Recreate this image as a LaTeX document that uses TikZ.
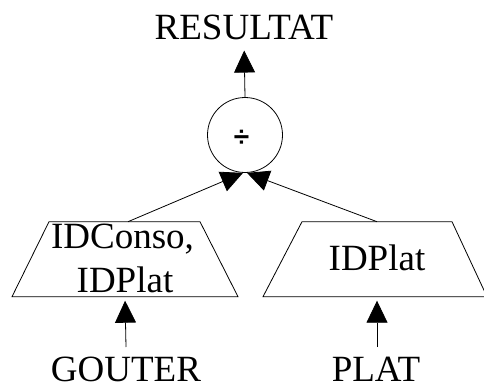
\documentclass[tikz,border=0pt]{standalone}
\usepackage{fontspec}
\setmainfont{Liberation Serif}
\newfontfamily\opfont{Liberation Sans}
\usetikzlibrary{arrows.meta}
\tikzset{
  lbl/.style={font=\fontsize{37}{44}\selectfont, inner sep=0pt, anchor=base},
  arr/.style={line width=0.8pt, -{Triangle[length=22pt,width=21pt]}},
  proj/.style={draw, line width=0.8pt, line join=miter},
  opc/.style={draw, line width=0.8pt, circle, minimum size=75pt, inner sep=0pt}
}
\begin{document}
\begin{tikzpicture}[x=1pt,y=-1pt]
\useasboundingbox (0,0) rectangle (484,385);
\node[lbl] (res) at (244,40) {RESULTAT};
\node[opc] (div) at (245,135) {};
\node[font=\opfont\bfseries\fontsize{28}{34}\selectfont, inner sep=0pt] (divsym) at (241.5,138) {÷};
% left projection
\draw[proj] (49,221.7) -- (200,221.7) -- (238,296.7) -- (12,296.7) -- cycle;
\coordinate (pltop) at (128,221.7);
\coordinate (plbot) at (125,296.7);
% right projection
\draw[proj] (302,221.7) -- (452,221.7) -- (487,296.7) -- (263,296.7) -- cycle;
\coordinate (prtop) at (377,221.7);
\coordinate (prbot) at (377,296.7);
\node[lbl] (pla) at (122.5,248) {IDConso,};
\node[lbl] (plb) at (125,292) {IDPlat};
\node[lbl] (pra) at (377,270) {IDPlat};
\node[lbl] (gouter) at (126,381) {GOUTER};
\node[lbl] (plat) at (376,381) {PLAT};
\draw[arr, shorten >=4pt] (gouter.north |- 0,347) -- (plbot);
\draw[arr, shorten >=4pt] (prbot |- 0,347) -- (prbot);
\draw[arr, shorten >=10pt] (div.north) -- (res.south);
\draw[arr] (pltop) -- ([xshift=-2pt]div.south);
\draw[arr] (prtop) -- ([xshift=2pt]div.south);
\end{tikzpicture}
\end{document}
